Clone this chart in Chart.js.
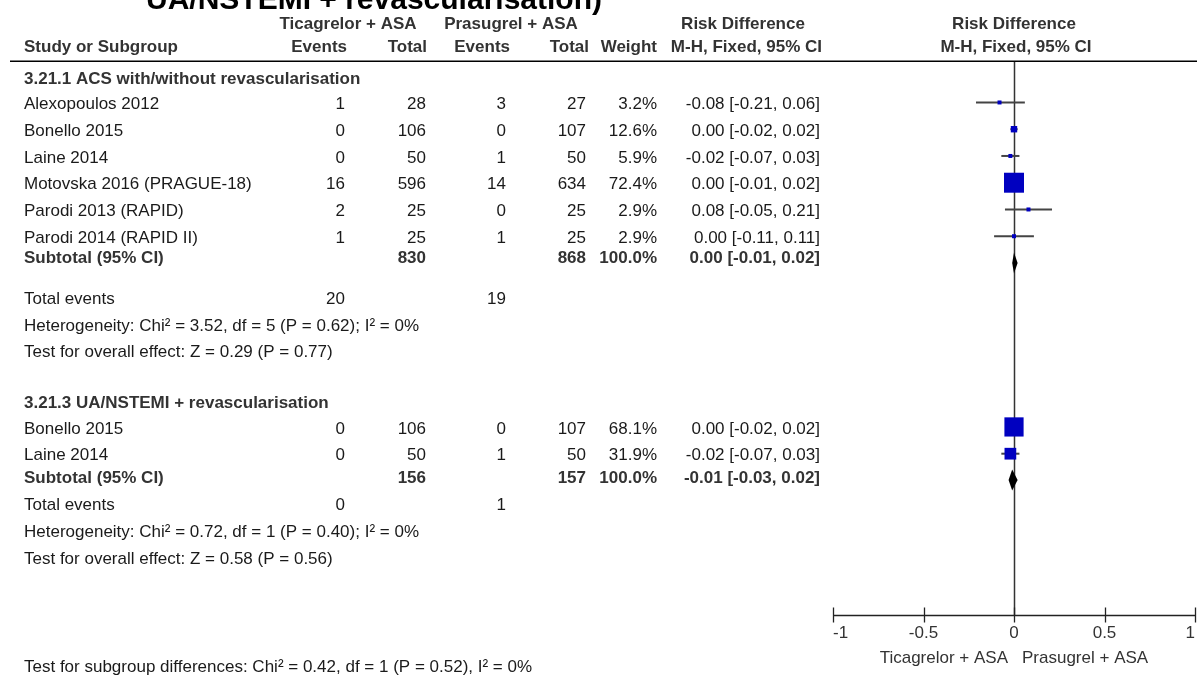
<!DOCTYPE html>
<html>
<head>
<meta charset="utf-8">
<script src="https://cdn.jsdelivr.net/npm/chart.js@4.4.1/dist/chart.umd.min.js"></script>
<style>
  html, body { margin: 0; padding: 0; background: #fff; overflow: hidden; }
  #wrap { position: relative; width: 1197px; height: 681px; }
</style>
</head>
<body>
<div id="wrap"><canvas id="forest" width="1197" height="681"></canvas></div>
<script>
// ---------- data ----------
const titleLine = 'UA/NSTEMI + revascularisation)';
const armNames = ['Ticagrelor + ASA', 'Prasugrel + ASA'];
const groupTitles = ['3.21.1 ACS with/without revascularisation', '3.21.3 UA/NSTEMI + revascularisation'];

// subgroup 3.21.1
const g1Studies = ['Alexopoulos 2012', 'Bonello 2015', 'Laine 2014', 'Motovska 2016 (PRAGUE-18)', 'Parodi 2013 (RAPID)', 'Parodi 2014 (RAPID II)'];
const g1TicaEvents = [1, 0, 0, 16, 2, 1];
const g1TicaTotal = [28, 106, 50, 596, 25, 25];
const g1PrasEvents = [3, 0, 1, 14, 0, 1];
const g1PrasTotal = [27, 107, 50, 634, 25, 25];
const g1Weight = [3.2, 12.6, 5.9, 72.4, 2.9, 2.9];
const g1RD = [-0.08, 0.00, -0.02, 0.00, 0.08, 0.00];
const g1Lower = [-0.21, -0.02, -0.07, -0.01, -0.05, -0.11];
const g1Upper = [0.06, 0.02, 0.03, 0.02, 0.21, 0.11];
const g1Pooled = [0.00, -0.01, 0.02];          // estimate, lower, upper
const g1Totals = [830, 868];
const g1SubtotalWeight = 100.0;
const g1TotalEvents = [20, 19];
const g1Heterogeneity = 'Heterogeneity: Chi² = 3.52, df = 5 (P = 0.62); I² = 0%';
const g1Overall = 'Test for overall effect: Z = 0.29 (P = 0.77)';

// subgroup 3.21.3
const g2Studies = ['Bonello 2015', 'Laine 2014'];
const g2TicaEvents = [0, 0];
const g2TicaTotal = [106, 50];
const g2PrasEvents = [0, 1];
const g2PrasTotal = [107, 50];
const g2Weight = [68.1, 31.9];
const g2RD = [0.00, -0.02];
const g2Lower = [-0.02, -0.07];
const g2Upper = [0.02, 0.03];
const g2Pooled = [-0.01, -0.03, 0.02];
const g2Totals = [156, 157];
const g2SubtotalWeight = 100.0;
const g2TotalEvents = [0, 1];
const g2Heterogeneity = 'Heterogeneity: Chi² = 0.72, df = 1 (P = 0.40); I² = 0%';
const g2Overall = 'Test for overall effect: Z = 0.58 (P = 0.56)';

const subgroupTest = 'Test for subgroup differences: Chi² = 0.42, df = 1 (P = 0.52), I² = 0%';

const xTicks = [-1, -0.5, 0, 0.5, 1];
const xTickLabels = ['-1', '-0.5', '0', '0.5', '1'];

// ---------- layout (vertical positions in table rows, 0 = rule under the header) ----------
const rowLayout = [
  { title: 0.60, first: 1.55, subText: 7.29, diamond: 7.55, events: 8.82, het: 9.83, test: 10.82 },
  { title: 12.73, first: 13.68, subText: 15.51, diamond: 15.66, events: 16.52, het: 17.53, test: 18.54 }
];
const headRow1 = -1.38, headRow2 = -0.50, titleRow = -1.95, footRow = 22.67, axisRow = 20.71;

const groups = [
  { title: groupTitles[0], studies: g1Studies, te: g1TicaEvents, tt: g1TicaTotal, pe: g1PrasEvents, pt: g1PrasTotal,
    w: g1Weight, rd: g1RD, lo: g1Lower, hi: g1Upper, pooled: g1Pooled, totals: g1Totals, subW: g1SubtotalWeight,
    events: g1TotalEvents, het: g1Heterogeneity, overall: g1Overall, rows: rowLayout[0] },
  { title: groupTitles[1], studies: g2Studies, te: g2TicaEvents, tt: g2TicaTotal, pe: g2PrasEvents, pt: g2PrasTotal,
    w: g2Weight, rd: g2RD, lo: g2Lower, hi: g2Upper, pooled: g2Pooled, totals: g2Totals, subW: g2SubtotalWeight,
    events: g2TotalEvents, het: g2Heterogeneity, overall: g2Overall, rows: rowLayout[1] }
];

// ---------- styles ----------
const FONT = '"Liberation Sans", Arial, Helvetica, sans-serif';
const TEXT = '#1a1a1a', HEAD = '#333333';
const SQUARE = '#0000c0', CI_LINE = '#444444';
const COL = { name: 24, te: 345, tt: 426, pe: 506, pt: 586, w: 657, ci: 820 };
const TEXT_DY = 2;

// square side (px) grows with study weight
const squareSide = w => Math.max(4, 1.235 * Math.pow(w, 0.65));
const fmt = v => v.toFixed(2);
const ciText = (e, l, h) => `${fmt(e)} [${fmt(l)}, ${fmt(h)}]`;

// ---------- datasets ----------
const datasets = [];
const squarePts = [], squareRadii = [];
groups.forEach(g => {
  g.studies.forEach((s, i) => {
    const r = g.rows.first + i;
    datasets.push({
      data: [{ x: g.lo[i], y: r }, { x: g.hi[i], y: r }],
      showLine: true, borderColor: CI_LINE, borderWidth: 2, pointRadius: 0, order: 2
    });
    squarePts.push({ x: g.rd[i], y: r });
    squareRadii.push(squareSide(g.w[i]) / Math.SQRT2);
  });
});
datasets.push({
  data: squarePts, pointStyle: 'rect', pointRadius: squareRadii, pointBackgroundColor: SQUARE,
  pointBorderWidth: 0, pointBorderColor: SQUARE, showLine: false, order: 0
});

// ---------- drawing of the table, axis and pooled diamonds ----------
const forestPlugin = {
  id: 'forestTable',
  beforeDatasetsDraw(chart) {
    const { ctx, chartArea: a, scales: { x } } = chart;
    const x0 = Math.round(x.getPixelForValue(0)) + 0.5;
    ctx.save();
    ctx.strokeStyle = '#333';
    ctx.lineWidth = 1.5;
    ctx.beginPath();
    ctx.moveTo(x0, a.top);
    ctx.lineTo(x0, a.bottom);
    ctx.stroke();
    ctx.restore();
  },
  afterDatasetsDraw(chart) {
    const { ctx, chartArea: a, scales: { x, y } } = chart;
    const Y = r => y.getPixelForValue(r);
    const text = (s, px, py, align, bold, color, size) => {
      ctx.font = `${bold ? 'bold ' : ''}${size || 17}px ${FONT}`;
      ctx.fillStyle = color || TEXT;
      ctx.textAlign = align;
      ctx.textBaseline = 'middle';
      ctx.fillText(s, px, py);
    };
    ctx.save();

    // pooled diamonds
    groups.forEach(g => {
      const cy = Y(g.rows.diamond);
      const [e, l, h] = g.pooled;
      ctx.fillStyle = '#000';
      ctx.beginPath();
      ctx.moveTo(x.getPixelForValue(l), cy);
      ctx.lineTo(x.getPixelForValue(e), cy - 10.5);
      ctx.lineTo(x.getPixelForValue(h), cy);
      ctx.lineTo(x.getPixelForValue(e), cy + 10.5);
      ctx.closePath();
      ctx.fill();
    });

    // title line (partly above the page edge)
    ctx.font = `bold 30px ${FONT}`;
    ctx.fillStyle = '#000';
    ctx.textAlign = 'left';
    ctx.textBaseline = 'alphabetic';
    ctx.fillText(titleLine, 146, Y(titleRow));

    // header
    const h1 = Y(headRow1), h2 = Y(headRow2), xMid = x.getPixelForValue(0);
    text(armNames[0], 348, h1, 'center', true, HEAD);
    text(armNames[1], 511, h1, 'center', true, HEAD);
    text('Risk Difference', 743, h1, 'center', true, HEAD);
    text('Risk Difference', xMid, h1, 'center', true, HEAD);
    text('Study or Subgroup', COL.name, h2, 'left', true, HEAD);
    text('Events', 347, h2, 'right', true, HEAD);
    text('Total', 427, h2, 'right', true, HEAD);
    text('Events', 510, h2, 'right', true, HEAD);
    text('Total', 589, h2, 'right', true, HEAD);
    text('Weight', 657, h2, 'right', true, HEAD);
    text('M-H, Fixed, 95% CI', 822, h2, 'right', true, HEAD);
    text('M-H, Fixed, 95% CI', xMid + 2, h2, 'center', true, HEAD);

    // rule under the header
    ctx.strokeStyle = '#000';
    ctx.lineWidth = 1.5;
    ctx.beginPath();
    ctx.moveTo(10, Math.round(a.top) + 0.25);
    ctx.lineTo(1197, Math.round(a.top) + 0.25);
    ctx.stroke();

    // table body
    groups.forEach(g => {
      const R = g.rows;
      text(g.title, COL.name, Y(R.title) + TEXT_DY, 'left', true, HEAD);
      g.studies.forEach((s, i) => {
        const py = Y(R.first + i) + TEXT_DY;
        text(s, COL.name, py, 'left');
        text(String(g.te[i]), COL.te, py, 'right');
        text(String(g.tt[i]), COL.tt, py, 'right');
        text(String(g.pe[i]), COL.pe, py, 'right');
        text(String(g.pt[i]), COL.pt, py, 'right');
        text(g.w[i].toFixed(1) + '%', COL.w, py, 'right');
        text(ciText(g.rd[i], g.lo[i], g.hi[i]), COL.ci, py, 'right');
      });
      const sy = Y(R.subText) + TEXT_DY;
      text('Subtotal (95% CI)', COL.name, sy, 'left', true, HEAD);
      text(String(g.totals[0]), COL.tt, sy, 'right', true, HEAD);
      text(String(g.totals[1]), COL.pt, sy, 'right', true, HEAD);
      text(g.subW.toFixed(1) + '%', COL.w, sy, 'right', true, HEAD);
      text(ciText(...g.pooled), COL.ci, sy, 'right', true, HEAD);
      const ey = Y(R.events) + TEXT_DY;
      text('Total events', COL.name, ey, 'left');
      text(String(g.events[0]), COL.te, ey, 'right');
      text(String(g.events[1]), COL.pe, ey, 'right');
      text(g.het, COL.name, Y(R.het) + TEXT_DY, 'left');
      text(g.overall, COL.name, Y(R.test) + TEXT_DY, 'left');
    });

    // x axis with ticks crossing the line
    const ay = Math.round(Y(axisRow)) + 0.5;
    ctx.strokeStyle = '#222';
    ctx.lineWidth = 1.3;
    ctx.beginPath();
    ctx.moveTo(x.getPixelForValue(xTicks[0]), ay);
    ctx.lineTo(x.getPixelForValue(xTicks[xTicks.length - 1]), ay);
    xTicks.forEach(t => {
      const tx = Math.round(x.getPixelForValue(t)) + 0.5;
      ctx.moveTo(tx, ay - 8);
      ctx.lineTo(tx, ay + 7);
    });
    ctx.stroke();
    xTicks.forEach((t, i) => {
      const align = i === 0 ? 'left' : (i === xTicks.length - 1 ? 'right' : 'center');
      text(xTickLabels[i], x.getPixelForValue(t), ay + 18, align, false, '#333');
    });
    text(armNames[0], xMid - 6, ay + 43, 'right', false, '#333');
    text(armNames[1], xMid + 8, ay + 43, 'left', false, '#333');

    // overall subgroup test
    text(subgroupTest, COL.name, Y(footRow), 'left');
    ctx.restore();
  }
};

new Chart(document.getElementById('forest'), {
  type: 'scatter',
  data: { datasets },
  options: {
    responsive: false,
    animation: false,
    devicePixelRatio: 1,
    events: [],
    layout: { autoPadding: false, padding: { left: 833, right: 2, top: 61, bottom: 66 } },
    plugins: { legend: { display: false }, tooltip: { enabled: false } },
    scales: {
      x: { type: 'linear', min: xTicks[0], max: xTicks[xTicks.length - 1], display: false },
      y: { type: 'linear', min: 0, max: axisRow, reverse: true, display: false }
    }
  },
  plugins: [forestPlugin]
});
</script>
</body>
</html>
